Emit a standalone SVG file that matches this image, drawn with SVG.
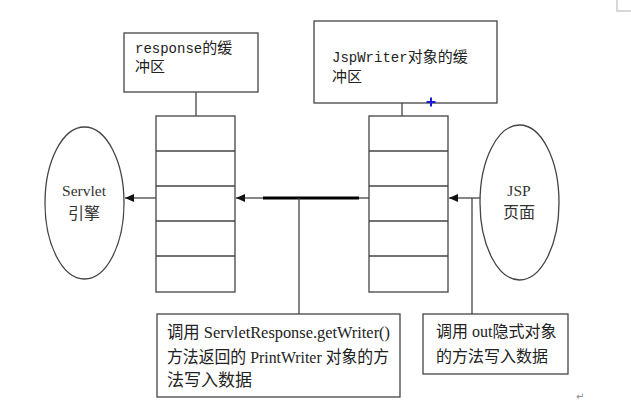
<svg xmlns="http://www.w3.org/2000/svg" width="631" height="405" viewBox="0 0 631 405">
<style>
.box{fill:#fff;stroke:#444;stroke-width:1.3}
.ln{fill:none;stroke:#444;stroke-width:1.3}
.mono{font-family:"Liberation Mono","Noto Sans CJK SC",monospace;font-size:14px;fill:#222}
.cjk{font-family:"Noto Sans CJK SC",sans-serif;font-size:15px}
.lbl{font-family:"Liberation Serif","Noto Sans CJK SC",serif;fill:#333}
.note{font-family:"Liberation Serif","Noto Sans CJK SC",serif;fill:#222}
</style>
<defs>
<marker id="ah" markerWidth="10" markerHeight="8" refX="9" refY="4" orient="auto" markerUnits="userSpaceOnUse">
<path d="M0,0 L9,4 L0,8 Z" fill="#111"/>
</marker>
</defs>
<rect width="631" height="405" fill="#fff"/>
<path d="M617,0 V11 H631" fill="none" stroke="#ccc" stroke-width="1.5"/>

<g id="response-buffer-label">
<rect class="box" x="124" y="33" width="134" height="59"/>
<text class="mono" x="135" y="53">response<tspan class="cjk">的缓</tspan></text>
<text class="mono" x="135" y="72"><tspan class="cjk">冲区</tspan></text>
</g>

<g id="jspwriter-buffer-label">
<rect class="box" x="314" y="21" width="183" height="82"/>
<text class="mono" x="332" y="62">JspWriter<tspan class="cjk">对象的缓</tspan></text>
<text class="mono" x="332" y="81.5"><tspan class="cjk">冲区</tspan></text>
</g>

<g id="response-buffer">
<rect class="box" x="156" y="116" width="79" height="176"/>
<path class="ln" d="M156,151 H235 M156,186 H235 M156,221 H235 M156,256 H235"/>
</g>

<g id="jspwriter-buffer">
<rect class="box" x="369" y="116" width="79" height="176"/>
<path class="ln" d="M369,151 H448 M369,186 H448 M369,221 H448 M369,256 H448"/>
</g>

<g id="servlet-engine">
<ellipse class="box" cx="84.5" cy="203" rx="39.5" ry="76"/>
<text class="lbl" x="84" y="196" font-size="15.5" text-anchor="middle">Servlet</text>
<text class="lbl" x="84" y="219" font-size="16" text-anchor="middle">引擎</text>
</g>

<g id="jsp-page">
<ellipse class="box" cx="519.5" cy="202.5" rx="39.5" ry="77.5"/>
<text class="lbl" x="519" y="196" font-size="15.5" text-anchor="middle">JSP</text>
<text class="lbl" x="519" y="218" font-size="16" text-anchor="middle">页面</text>
</g>

<g id="note-getwriter">
<rect class="box" x="157" y="314" width="243" height="83"/>
<text class="note" x="167" y="338" font-size="17" textLength="223" lengthAdjust="spacingAndGlyphs">调用  ServletResponse.getWriter()</text>
<text class="note" x="167" y="363" font-size="17" textLength="222" lengthAdjust="spacingAndGlyphs">方法返回的 PrintWriter 对象的方</text>
<text class="note" x="167" y="386" font-size="17">法写入数据</text>
</g>

<g id="note-out">
<rect class="box" x="423" y="314" width="145" height="60"/>
<text class="note" x="436" y="337" font-size="16">调用 out隐式对象</text>
<text class="note" x="436" y="362" font-size="16">的方法写入数据</text>
</g>

<g id="connectors">
<line class="ln" x1="196" y1="92" x2="196" y2="116"/>
<line class="ln" x1="402" y1="103" x2="402" y2="116"/>
<line class="ln" x1="156" y1="198" x2="125" y2="198" marker-end="url(#ah)"/>
<line class="ln" x1="369" y1="198" x2="359" y2="198"/>
<line x1="263" y1="198" x2="359" y2="198" stroke="#000" stroke-width="3"/>
<line class="ln" x1="263" y1="198" x2="236" y2="198" marker-end="url(#ah)"/>
<line class="ln" x1="299" y1="198" x2="299" y2="314"/>
<line class="ln" x1="480" y1="198" x2="449" y2="198" marker-end="url(#ah)"/>
<line class="ln" x1="472" y1="198" x2="472" y2="314"/>
</g>

<path d="M426.5,102 H435.5 M431,97.5 V106.5" stroke="#1a1adc" stroke-width="2" fill="none"/>
<text x="576" y="400" font-family="DejaVu Sans,sans-serif" font-size="10" fill="#888">↵</text>
</svg>
